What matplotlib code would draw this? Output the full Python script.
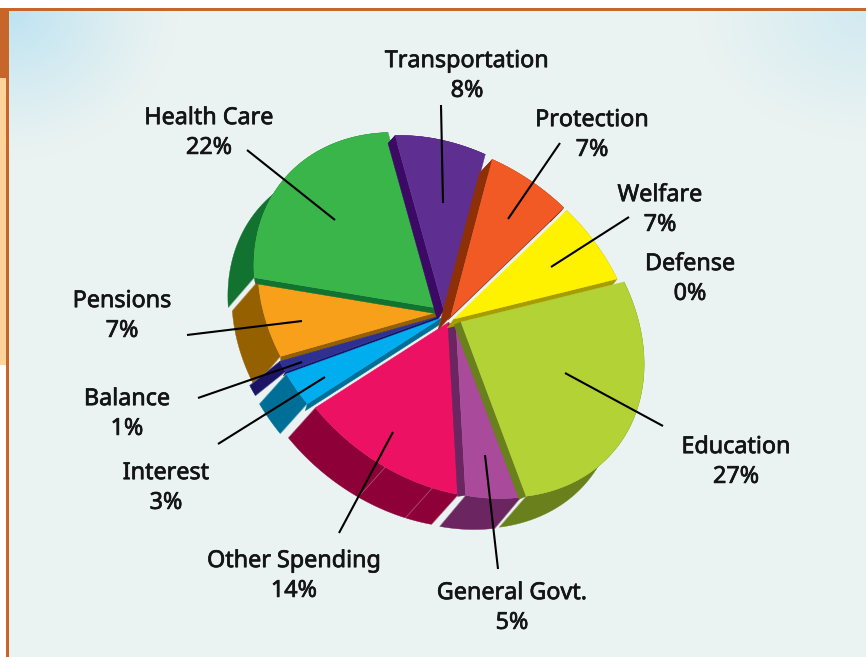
import numpy as np
import matplotlib
matplotlib.use('Agg')
import matplotlib.pyplot as plt
import matplotlib.patheffects as pe
from matplotlib.patches import Polygon, Rectangle
from matplotlib.colors import LinearSegmentedColormap

# Data, clockwise from the top
categories = ['Transportation', 'Protection', 'Welfare', 'Defense', 'Education', 'General Govt.',
              'Other Spending', 'Interest', 'Balance', 'Pensions', 'Health Care']
shares = [8, 7, 7, 0, 27, 5, 14, 3, 1, 7, 22]

# Slice styling
top_colors = ['#5f2e91', '#f15a24', '#fff200', '#ffffff', '#b2d235', '#a94a9b',
              '#ed1164', '#00aeef', '#2e3192', '#f9a01b', '#39b54a']
side_colors = ['#3c0a64', '#8e2f05', '#a89d00', '#ffffff', '#69801c', '#6b2560',
               '#8e0038', '#006f98', '#1b1464', '#956000', '#12722f']
apexes = [(444, 311), (451, 316), (454, 319), (457, 322), (461, 322), (456, 323),
          (449, 322), (441, 318), (440, 316), (441, 311), (437, 308)]
rims = [(-7, 8), (-13, 14), (-8, 9), (0, 0), (-27, 31), (-26, 31),
        (-27, 30), (-27, 30), (-30, 24), (-26, 30), (-26, 30)]
# which radial edges show a wall: (edge, offset), edge 0 = start, 1 = end
walls = [[(0, (-7, 8))], [(0, (-13, 14)), (1, (-3, 4))], [(1, (-7, 9))], [], [(1, (-7, 3))], [(1, (-8, 1))],
         [], [(0, (-2, 7))], [(0, (-2, 4))], [(0, (0, 5))], [(0, (1, 6))]]
extra_folds = {'Other Spending': [0.17, 0.47]}
draw_order = ['Pensions', 'Balance', 'Interest', 'Other Spending', 'Health Care', 'Transportation',
              'Protection', 'General Govt.', 'Welfare', 'Education']

# Labels and leader lines
label_pos = [(467, 76), (592, 135), (660, 210), (690, 279), (736, 462), (512, 608),
             (294, 576), (166, 488), (127, 414), (122, 316), (209, 133)]
leaders = [((441, 105), (443, 203)), ((560, 143), (508, 219)), ((629, 217), (551, 267)), None,
           ((663, 426), (565, 373)), ((498, 569), (485, 455)), ((339, 533), (393, 432)),
           ((218, 444), (325, 377)), ((198, 398), (302, 362)), ((187, 335), (302, 321)),
           ((247, 150), (335, 220))]

# Tilted disc: radius, squash and its direction, starting angle
RADIUS = 200
SQUASH = 0.78
TILT = np.radians(40)
START = -8.7


def disc_points(angles, apex):
    rel = np.radians(angles) - TILT
    t = np.array([np.cos(TILT), np.sin(TILT)])
    u = np.array([np.sin(TILT), -np.cos(TILT)])
    x = RADIUS * (np.sin(rel) * t[0] + SQUASH * np.cos(rel) * u[0])
    y = RADIUS * (np.sin(rel) * t[1] + SQUASH * np.cos(rel) * u[1])
    return np.column_stack([x + apex[0], y + apex[1]])


fig = plt.figure(figsize=(8.66, 6.57), dpi=100)
ax = fig.add_axes([0, 0, 1, 1])

# Background panel with soft blue corners
xx, yy = np.meshgrid(np.arange(9, 866), np.arange(11, 657))
glow_left = np.clip(1 - np.hypot((xx - 9) / 170, (yy - 11) / 150), 0, 1) ** 1.2
glow_right = 0.55 * np.clip(1 - np.hypot((xx - 866) / 170, (yy - 11) / 130), 0, 1)
cmap = LinearSegmentedColormap.from_list('panel', ['#ebf3f2', '#bde3f1'])
ax.imshow(glow_left + glow_right, extent=(9, 866, 657, 11), cmap=cmap, vmin=0, vmax=1, aspect='auto', zorder=0)
ax.set_xlim(0, 866)
ax.set_ylim(657, 0)
ax.axis('off')
ax.add_patch(Rectangle((0, 8), 866, 3, color='#c8662a', lw=0, zorder=1))
ax.add_patch(Rectangle((6, 8), 3, 649, color='#c8662a', lw=0, zorder=1))
ax.add_patch(Rectangle((0, 8), 6, 70, color='#c8662a', lw=0, zorder=1))
ax.add_patch(Rectangle((0, 78), 6, 287, color='#fdd49b', lw=0, zorder=1))

# Slices
edges = START + np.concatenate([[0], np.cumsum(shares)]) / sum(shares) * 360
for name in draw_order:
    i = categories.index(name)
    apex = np.array(apexes[i])
    arc = disc_points(np.linspace(edges[i], edges[i + 1], 80), apex)
    rim = np.array(rims[i])
    side = side_colors[i]
    ax.add_patch(Polygon(np.vstack([arc, (arc + rim)[::-1]]), closed=True, fc=side, ec=side, lw=0.3, zorder=2))
    folds = [arc[0], arc[-1]]
    for frac in extra_folds.get(name, []):
        folds.append(arc[int(frac * 79)])
    for p in folds:
        if rim[0] < -20:
            ax.plot([p[0], p[0] + rim[0]], [p[1], p[1] + rim[1]], color='white', alpha=0.3, lw=0.6, zorder=2)
    for edge, off in walls[i]:
        tip = arc[0] if edge == 0 else arc[-1]
        ax.add_patch(Polygon([apex, tip, tip + np.array(off), apex + np.array(off)], closed=True,
                             fc=side, ec=side, lw=0.3, zorder=2))
    ax.add_patch(Polygon(np.vstack([apex, arc]), closed=True, fc=top_colors[i], ec=top_colors[i], lw=0.3, zorder=2))

# Leaders and labels
for seg in leaders:
    if seg is not None:
        ax.plot([seg[0][0], seg[1][0]], [seg[0][1], seg[1][1]], color='black', lw=1.5,
                solid_capstyle='butt', zorder=3)
for name, share, pos in zip(categories, shares, label_pos):
    ax.text(pos[0], pos[1], f'{name}\n{share}%', ha='center', va='center', fontsize=16.8,
            family='Noto Sans', color='#141414', linespacing=1.32, zorder=4,
            path_effects=[pe.withStroke(linewidth=0.5, foreground='#141414')])

fig.savefig('out.png', dpi=100)
